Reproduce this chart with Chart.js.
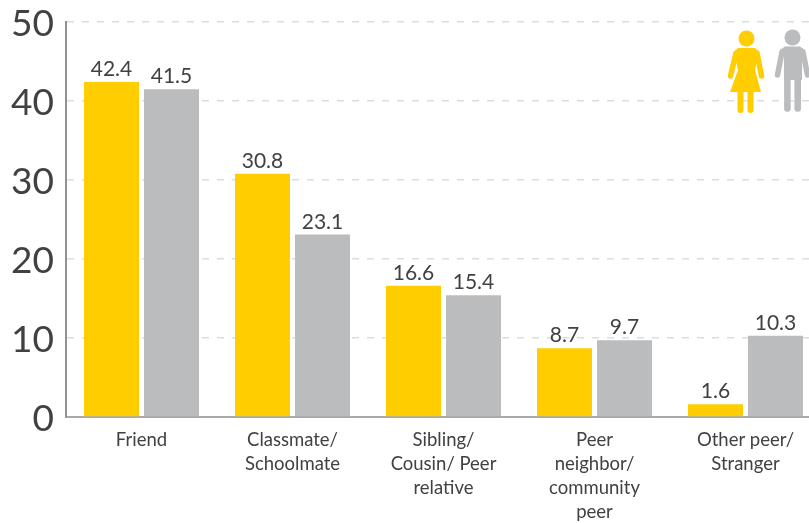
<!DOCTYPE html>
<html>
<head>
<meta charset="utf-8">
<style>
  html, body { margin: 0; padding: 0; background: #fff; overflow: hidden; }
  #wrap { width: 809px; height: 523px; overflow: hidden; }
</style>
</head>
<body>
<div id="wrap"><canvas id="chart" width="821" height="523"></canvas></div>
<script src="https://cdn.jsdelivr.net/npm/chart.js@4"></script>
<script>
const categories = [
  "Friend",
  ["Classmate/", "Schoolmate"],
  ["Sibling/", "Cousin/ Peer", "relative"],
  ["Peer", "neighbor/", "community", "peer"],
  ["Other peer/", "Stranger"]
];
const femaleValues = [42.4, 30.8, 16.6, 8.7, 1.6];
const maleValues = [41.5, 23.1, 15.4, 9.7, 10.3];
const yTicks = [0, 10, 20, 30, 40, 50];

const YELLOW = "#ffcd00";
const GREY = "#bbbcbe";
const TEXT = "#414042";
const FONT = "Lato, 'Open Sans', sans-serif";

// value labels above each bar
const barLabels = {
  id: "barLabels",
  afterDatasetsDraw(chart) {
    const ctx = chart.ctx;
    ctx.save();
    ctx.font = "21px " + FONT;
    ctx.fillStyle = TEXT;
    ctx.textAlign = "center";
    ctx.textBaseline = "alphabetic";
    chart.data.datasets.forEach((ds, i) => {
      chart.getDatasetMeta(i).data.forEach((bar, j) => {
        ctx.fillText(ds.data[j].toFixed(1), bar.x, bar.y - 6);
      });
    });
    ctx.restore();
  }
};

function limb(ctx, x1, y1, x2, y2, w) {
  ctx.lineWidth = w;
  ctx.lineCap = "round";
  ctx.beginPath();
  ctx.moveTo(x1, y1);
  ctx.lineTo(x2, y2);
  ctx.stroke();
}

// woman and man pictograms, top right
const peopleIcons = {
  id: "peopleIcons",
  afterDraw(chart) {
    const ctx = chart.ctx;
    ctx.save();

    ctx.fillStyle = YELLOW;
    ctx.strokeStyle = YELLOW;
    ctx.beginPath();
    ctx.arc(746.5, 38.5, 8, 0, Math.PI * 2);
    ctx.fill();
    ctx.beginPath();
    ctx.moveTo(738, 48);
    ctx.lineTo(755, 48);
    ctx.lineTo(759, 52);
    ctx.lineTo(755, 70);
    ctx.lineTo(761, 92);
    ctx.lineTo(730, 92);
    ctx.lineTo(738, 70);
    ctx.lineTo(734, 52);
    ctx.closePath();
    ctx.fill();
    limb(ctx, 736, 53, 730.5, 76, 5.5);
    limb(ctx, 757, 53, 761.5, 76, 5.5);
    limb(ctx, 740.5, 90, 740.5, 110, 6);
    limb(ctx, 750.5, 90, 750.5, 110, 6);

    ctx.fillStyle = GREY;
    ctx.strokeStyle = GREY;
    ctx.beginPath();
    ctx.arc(792.5, 37.5, 8, 0, Math.PI * 2);
    ctx.fill();
    ctx.beginPath();
    ctx.moveTo(785, 46.5);
    ctx.lineTo(800, 46.5);
    ctx.lineTo(805, 50);
    ctx.lineTo(802, 58);
    ctx.lineTo(802, 80);
    ctx.lineTo(784, 80);
    ctx.lineTo(784, 58);
    ctx.lineTo(780, 50);
    ctx.closePath();
    ctx.fill();
    limb(ctx, 782, 52, 777.5, 75, 5.5);
    limb(ctx, 803, 52, 807.5, 75, 5.5);
    limb(ctx, 787.4, 78, 787.4, 108.5, 6.6);
    limb(ctx, 797.7, 78, 797.7, 108.5, 6.6);

    ctx.restore();
  }
};

new Chart(document.getElementById("chart"), {
  type: "bar",
  data: {
    labels: categories,
    datasets: [
      { label: "Female", data: femaleValues, backgroundColor: YELLOW },
      { label: "Male", data: maleValues, backgroundColor: GREY }
    ]
  },
  options: {
    responsive: false,
    animation: false,
    categoryPercentage: 120 / 151,
    barPercentage: 55 / 60,
    layout: { padding: { top: 22, right: 0, left: 0, bottom: 0 } },
    plugins: {
      legend: { display: false },
      tooltip: { enabled: false }
    },
    scales: {
      x: {
        grid: { display: false, drawTicks: false },
        border: { color: "#a7a9ac", width: 2 },
        afterFit(scale) { scale.height = 106; },
        ticks: {
          color: TEXT,
          maxRotation: 0,
          autoSkip: false,
          padding: 11,
          font: { family: FONT, size: 18.5, lineHeight: 24 / 18.5 }
        }
      },
      y: {
        min: 0,
        max: 50,
        afterFit(scale) {
          scale.width = 66;
          // the tall tick labels would otherwise push the plot down
          scale.paddingTop = 0;
          scale.paddingBottom = 0;
        },
        afterBuildTicks(scale) { scale.ticks = yTicks.map(v => ({ value: v })); },
        grid: { color: "#dcddde", lineWidth: 1.5, drawTicks: false, tickLength: 0 },
        border: { color: "#8f9194", width: 2, dash: [7, 8] },
        ticks: {
          color: TEXT,
          padding: 12,
          labelOffset: 2,
          font: { family: FONT, size: 37 }
        }
      }
    }
  },
  plugins: [barLabels, peopleIcons]
});
</script>
</body>
</html>
